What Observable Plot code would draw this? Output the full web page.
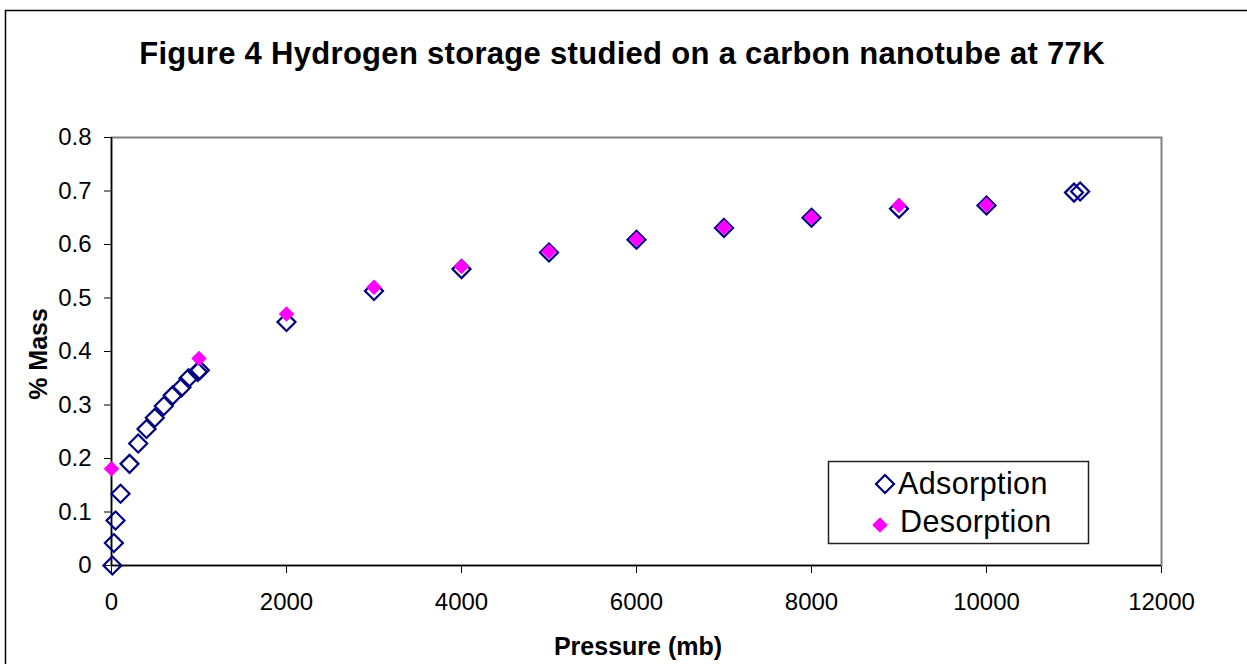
<!DOCTYPE html>
<html>
<head>
<meta charset="utf-8">
<script src="https://cdn.jsdelivr.net/npm/d3@7"></script>
<script src="https://cdn.jsdelivr.net/npm/@observablehq/plot@0.6"></script>
<style>
  html, body { margin: 0; padding: 0; background: #fff; overflow: hidden; }
  #wrap { position: relative; width: 1247px; height: 664px; overflow: hidden; background: #fff; }
  #wrap > svg { position: absolute; left: 0; top: 0; }
</style>
</head>
<body>
<div id="wrap"></div>
<script>
// ---- data ----
const titleText = "Figure 4 Hydrogen storage studied on a carbon nanotube at 77K";
const xLabel = "Pressure (mb)";
const yLabel = "% Mass";
const seriesNames = ["Adsorption", "Desorption"];

const adsorptionPressure = [10, 27, 46, 103, 206, 305, 400, 495, 598, 700, 800, 880, 985, 1010, 2000, 3000, 4000, 5000, 6000, 7000, 8000, 9000, 10000, 11000, 11070];
const adsorptionMass     = [0, 0.042, 0.084, 0.134, 0.190, 0.228, 0.255, 0.276, 0.298, 0.318, 0.333, 0.350, 0.362, 0.365, 0.455, 0.513, 0.554, 0.585, 0.609, 0.631, 0.650, 0.667, 0.673, 0.697, 0.699];

const desorptionPressure = [0, 1000, 2000, 3000, 4000, 5000, 6000, 7000, 8000, 9000, 10000];
const desorptionMass     = [0.181, 0.387, 0.470, 0.520, 0.559, 0.587, 0.610, 0.632, 0.651, 0.673, 0.674];

const xTicks = [0, 2000, 4000, 6000, 8000, 10000, 12000];
const yTicks = [0, 0.1, 0.2, 0.3, 0.4, 0.5, 0.6, 0.7, 0.8];

// ---- styling ----
const navy = "#000080", magenta = "#ff00ff";
const rAds = 8.1, rDes = 7.0;
const font = "'Liberation Sans', Arial, Helvetica, sans-serif";

const adsorption = adsorptionPressure.map((p, i) => ({p, m: adsorptionMass[i]}));
const desorption = desorptionPressure.map((p, i) => ({p, m: desorptionMass[i]}));

const chart = Plot.plot({
  width: 1247,
  height: 664,
  marginLeft: 111,
  marginRight: 86,
  marginTop: 137,
  marginBottom: 99,
  style: {fontFamily: font, fontSize: "24px", color: "#000", background: "transparent"},
  x: {domain: [0, 12000], ticks: xTicks, tickFormat: d3.format("d"), tickSize: 8, tickPadding: 19, label: null},
  y: {domain: [0, 0.8], ticks: yTicks, tickFormat: d3.format(".1~f"), tickSize: 7, tickPadding: 13, label: null},
  marks: [
    Plot.frame({stroke: "#808080", strokeWidth: 2}),
    Plot.ruleX([0], {stroke: "#000", strokeWidth: 1.5}),
    Plot.ruleY([0], {stroke: "#000", strokeWidth: 1.5}),
    Plot.dot(adsorption, {x: "p", y: "m", symbol: "diamond2", r: rAds, stroke: navy, strokeWidth: 2.2, fill: "none"}),
    Plot.dot(desorption, {x: "p", y: "m", symbol: "diamond2", r: rDes, fill: magenta, stroke: "none"})
  ]
});

const wrap = document.getElementById("wrap");
wrap.appendChild(chart);

// ---- overlay: chart border, title, axis titles, legend ----
const ov = d3.create("svg")
  .attr("width", 1247).attr("height", 664)
  .style("pointer-events", "none")
  .style("font-family", font);

ov.append("rect")
  .attr("x", 5.5).attr("y", 10.5).attr("width", 1300).attr("height", 700)
  .attr("fill", "none").attr("stroke", "#000").attr("stroke-width", 1.5);

ov.append("text")
  .attr("x", 622).attr("y", 64)
  .attr("text-anchor", "middle")
  .attr("font-weight", "bold").attr("font-size", 31)
  .style("letter-spacing", "0.3px")
  .text(titleText);

ov.append("text")
  .attr("x", 638).attr("y", 655)
  .attr("text-anchor", "middle")
  .attr("font-weight", "bold").attr("font-size", 25)
  .text(xLabel);

ov.append("text")
  .attr("transform", "translate(47,354) rotate(-90)")
  .attr("text-anchor", "middle")
  .attr("font-weight", "bold").attr("font-size", 25)
  .text(yLabel);

// legend
ov.append("rect")
  .attr("x", 828.5).attr("y", 461.5).attr("width", 260).attr("height", 82)
  .attr("fill", "#fff").attr("stroke", "#222").attr("stroke-width", 1.5);

const sym = d3.symbol().type(d3.symbolDiamond2);
ov.append("path")
  .attr("transform", "translate(885,484)")
  .attr("d", sym.size(Math.PI * rAds * rAds)())
  .attr("fill", "none").attr("stroke", navy).attr("stroke-width", 2.2);
ov.append("path")
  .attr("transform", "translate(880,525)")
  .attr("d", sym.size(Math.PI * rDes * rDes)())
  .attr("fill", magenta);

ov.append("text").attr("x", 898).attr("y", 494)
  .attr("font-size", 30.5).style("letter-spacing", "0.4px").text(seriesNames[0]);
ov.append("text").attr("x", 900).attr("y", 532)
  .attr("font-size", 30.5).style("letter-spacing", "0.4px").text(seriesNames[1]);

wrap.appendChild(ov.node());
</script>
</body>
</html>
